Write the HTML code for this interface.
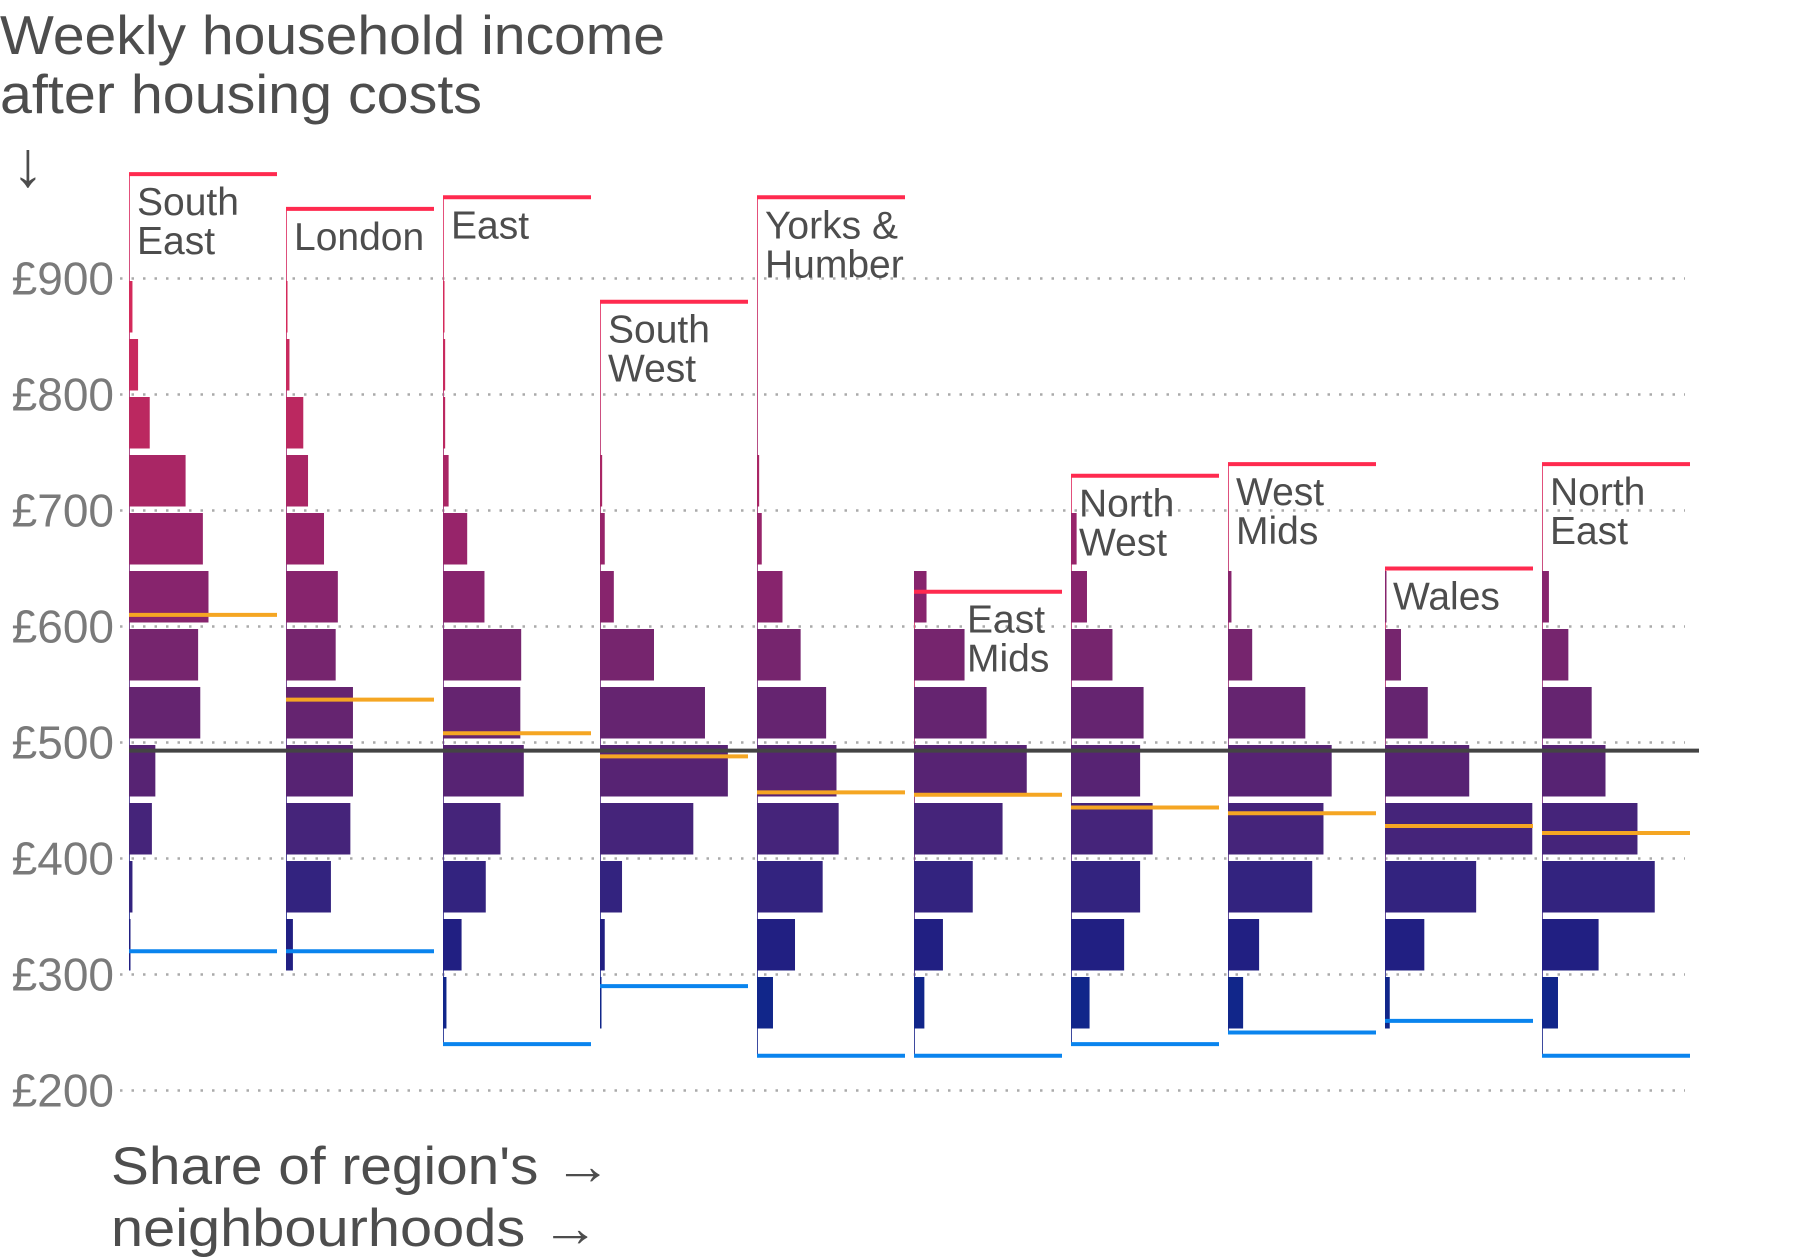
<!DOCTYPE html>
<html><head><meta charset="utf-8"><style>
html,body{margin:0;padding:0;background:#fff;}
svg{display:block;font-family:"Liberation Sans",sans-serif;}
</style></head><body>
<svg id="chart" width="1800" height="1260" viewBox="0 0 1800 1260" xmlns="http://www.w3.org/2000/svg">
<text x="0" y="54" font-size="55" fill="#4d4d4d" textLength="665" lengthAdjust="spacingAndGlyphs">Weekly household income</text>
<text x="0" y="113" font-size="55" fill="#4d4d4d" textLength="482" lengthAdjust="spacingAndGlyphs">after housing costs</text>
<text x="12" y="186" font-size="64" fill="#4d4d4d">↓</text>
<text x="111" y="1184" font-size="53" fill="#4d4d4d" textLength="500" lengthAdjust="spacingAndGlyphs">Share of region's →</text>
<text x="111" y="1246" font-size="53" fill="#4d4d4d" textLength="488" lengthAdjust="spacingAndGlyphs">neighbourhoods →</text>
<g id="grid"></g><g id="bars"></g><g id="lines"></g><g id="labels"></g>
</svg>
<script>
const regions = ["South East","London","East","South West","Yorks & Humber","East Mids","North West","West Mids","Wales","North East"];
const labelLines = [["South","East"],["London"],["East"],["South","West"],["Yorks &","Humber"],["East","Mids"],["North","West"],["West","Mids"],["Wales"],["North","East"]];
const binBottoms = [850,800,750,700,650,600,550,500,450,400,350,300,250];
const shareSE = [0.8,2.1,4.8,13.1,17.1,18.4,16,16.5,6.1,5.3,0.8,0.3,0];
const shareLondon = [0.3,0.8,4,5.1,8.8,12,11.5,15.5,15.5,14.9,10.4,1.6,0];
const shareEast = [0.1,0.5,0.5,1.3,5.6,9.6,18.1,17.9,18.7,13.3,9.9,4.3,0.8];
const shareSW = [0,0,0,0.5,1.1,3.2,12.5,24.3,29.6,21.6,5.1,1.1,0.3];
const shareYorks = [0,0,0,0.5,1.1,5.9,10.1,16,18.4,18.9,15.2,8.8,3.7];
const shareEM = [0,0,0,0,0,2.9,11.7,16.8,26.1,20.5,13.6,6.7,2.4];
const shareNW = [0,0,0,0,1.3,3.7,9.6,16.8,16,18.9,16,12.3,4.3];
const shareWM = [0,0,0,0,0,0.8,5.6,17.9,24,22.1,19.5,7.2,3.5];
const shareWales = [0,0,0,0,0,0.3,3.7,9.9,19.5,34.1,21.1,9.1,1.1];
const shareNE = [0,0,0,0,0,1.6,6.1,11.5,14.7,22.1,26.1,13.1,3.7];
const maxIncome = [990,960,970,880,970,630,730,740,650,740];
const midIncome = [610,537,508,488,457,455,444,439,428,422];
const minIncome = [320,320,240,290,230,230,240,250,260,230];
const nationalLine = 493;
const yTicks = [900,800,700,600,500,400,300,200];
const shares = [shareSE,shareLondon,shareEast,shareSW,shareYorks,shareEM,shareNW,shareWM,shareWales,shareNE];

const NS="http://www.w3.org/2000/svg";
function y(v){return 278.5+(900-v)*1.16;}
function colX(i){return 129+i*157;}
function w(s){return s*4.32;}
const palette=["#d42a5b","#c82a5e","#bb2860","#a92665","#97246a","#87246d","#76256e","#652470","#572373","#45247a","#33237f","#211f82","#11268a"];
function mk(tag,attrs,parent){const e=document.createElementNS(NS,tag);for(const k in attrs)e.setAttribute(k,attrs[k]);parent.appendChild(e);return e;}
const grid=document.getElementById('grid'),bars=document.getElementById('bars'),lines=document.getElementById('lines'),labels=document.getElementById('labels');
yTicks.forEach(t=>{
  const l=mk('line',{x1:120,x2:1685,y1:y(t),y2:y(t),stroke:'#aaa','stroke-width':2.5,'stroke-dasharray':'2.5 9'},grid);
  
  
  const tx=mk('text',{x:114,y:y(t)+16,'font-size':46,fill:'#7a7a7a','text-anchor':'end'},grid);
  tx.textContent='£'+t;
  
  
});
const defs=mk('defs',{},bars);
const lg=mk('linearGradient',{id:'rg',x1:0,y1:0,x2:0,y2:1,gradientUnits:'objectBoundingBox'},defs);
mk('stop',{offset:0,'stop-color':'#e8507a'},lg);mk('stop',{offset:1,'stop-color':'#3a4aa0'},lg);
regions.forEach((r,i)=>{
  const x0=colX(i);
  const rl=mk('rect',{x:x0,y:y(maxIncome[i]),width:1,height:y(minIncome[i])-y(maxIncome[i]),fill:'url(#rg)'},bars);
  
  
  shares[i].forEach((s,j)=>{
    if(s<=0)return;
    const b=binBottoms[j];
    const yt=y(b+50)+2.5,yb=y(b)-4;
    const rc=mk('rect',{x:x0,y:yt,width:Math.max(w(s),1.5),height:yb-yt,fill:palette[j]},bars);
    
    
  });
  const mx=mk('line',{x1:x0,x2:x0+148,y1:y(maxIncome[i]),y2:y(maxIncome[i]),stroke:'#ff2a4f','stroke-width':4},lines);
  
  
  const md=mk('line',{x1:x0,x2:x0+148,y1:y(midIncome[i]),y2:y(midIncome[i]),stroke:'#f5a623','stroke-width':4},lines);
  
  
  const mn=mk('line',{x1:x0,x2:x0+148,y1:y(minIncome[i]),y2:y(minIncome[i]),stroke:'#0a84ee','stroke-width':4},lines);
  
  
  const lx=(i===5)?x0+53:x0+8;
  labelLines[i].forEach((t,k)=>{
    const tx=mk('text',{x:lx,y:y(maxIncome[i])+41+k*39,'font-size':39,fill:'#4d4d4d'},labels);
    tx.textContent=t;
    
    
  });
});
const nl=mk('line',{x1:129,x2:1699,y1:y(nationalLine),y2:y(nationalLine),stroke:'#444','stroke-width':4},lines);


</script>
</body></html>
